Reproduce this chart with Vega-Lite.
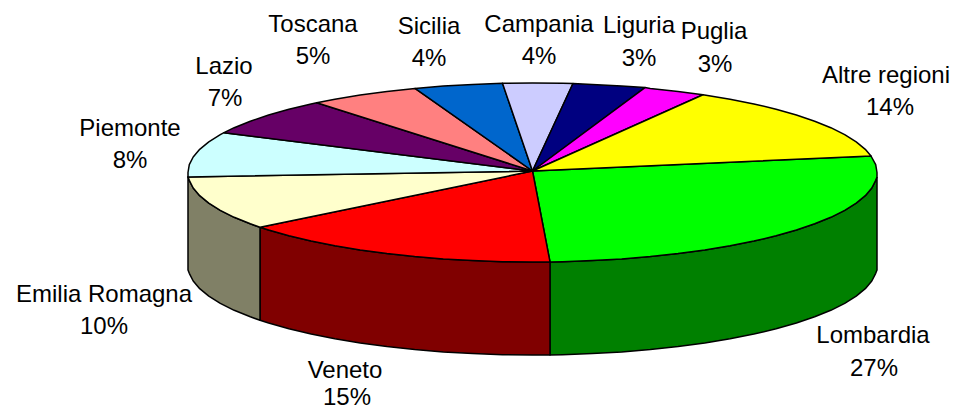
{"$schema":"https://vega.github.io/schema/vega-lite/v6.json","width":955,"height":410,"padding":0,"autosize":{"type":"none"},"background":"white","view":{"stroke":null},
"datasets":{
"side":[
{"region":"Lombardia side","n":0,"x":877,"y":177},{"region":"Lombardia side","n":1,"x":875.7,"y":180.3},{"region":"Lombardia side","n":2,"x":871.8,"y":188},{"region":"Lombardia side","n":3,"x":865.3,"y":195.7},{"region":"Lombardia side","n":4,"x":856.2,"y":203.1},{"region":"Lombardia side","n":5,"x":844.7,"y":210.3},{"region":"Lombardia side","n":6,"x":830.8,"y":217.3},{"region":"Lombardia side","n":7,"x":814.7,"y":223.8},{"region":"Lombardia side","n":8,"x":796.4,"y":230},{"region":"Lombardia side","n":9,"x":776.1,"y":235.8},{"region":"Lombardia side","n":10,"x":753.9,"y":241.1},{"region":"Lombardia side","n":11,"x":730.1,"y":245.8},{"region":"Lombardia side","n":12,"x":704.8,"y":250},{"region":"Lombardia side","n":13,"x":678.1,"y":253.6},{"region":"Lombardia side","n":14,"x":650.3,"y":256.6},{"region":"Lombardia side","n":15,"x":621.7,"y":259},{"region":"Lombardia side","n":16,"x":592.3,"y":260.6},{"region":"Lombardia side","n":17,"x":562.5,"y":261.7},{"region":"Lombardia side","n":18,"x":550,"y":261.9},{"region":"Lombardia side","n":19,"x":550,"y":354.9},{"region":"Lombardia side","n":20,"x":562.5,"y":354.7},{"region":"Lombardia side","n":21,"x":592.3,"y":353.6},{"region":"Lombardia side","n":22,"x":621.7,"y":352},{"region":"Lombardia side","n":23,"x":650.3,"y":349.6},{"region":"Lombardia side","n":24,"x":678.1,"y":346.6},{"region":"Lombardia side","n":25,"x":704.8,"y":343},{"region":"Lombardia side","n":26,"x":730.1,"y":338.8},{"region":"Lombardia side","n":27,"x":753.9,"y":334.1},{"region":"Lombardia side","n":28,"x":776.1,"y":328.8},{"region":"Lombardia side","n":29,"x":796.4,"y":323},{"region":"Lombardia side","n":30,"x":814.7,"y":316.8},{"region":"Lombardia side","n":31,"x":830.8,"y":310.3},{"region":"Lombardia side","n":32,"x":844.7,"y":303.3},{"region":"Lombardia side","n":33,"x":856.2,"y":296.1},{"region":"Lombardia side","n":34,"x":865.3,"y":288.7},{"region":"Lombardia side","n":35,"x":871.8,"y":281},{"region":"Lombardia side","n":36,"x":875.7,"y":273.3},{"region":"Lombardia side","n":37,"x":877,"y":270},{"region":"Lombardia side","n":38,"x":877,"y":177},
{"region":"Veneto side","n":0,"x":550,"y":261.9},{"region":"Veneto side","n":1,"x":532.5,"y":262},{"region":"Veneto side","n":2,"x":502.5,"y":261.7},{"region":"Veneto side","n":3,"x":472.7,"y":260.6},{"region":"Veneto side","n":4,"x":443.3,"y":259},{"region":"Veneto side","n":5,"x":414.7,"y":256.6},{"region":"Veneto side","n":6,"x":386.9,"y":253.6},{"region":"Veneto side","n":7,"x":360.2,"y":250},{"region":"Veneto side","n":8,"x":334.9,"y":245.8},{"region":"Veneto side","n":9,"x":311.1,"y":241.1},{"region":"Veneto side","n":10,"x":288.9,"y":235.8},{"region":"Veneto side","n":11,"x":268.6,"y":230},{"region":"Veneto side","n":12,"x":260,"y":227.3},{"region":"Veneto side","n":13,"x":260,"y":320.3},{"region":"Veneto side","n":14,"x":268.6,"y":323},{"region":"Veneto side","n":15,"x":288.9,"y":328.8},{"region":"Veneto side","n":16,"x":311.1,"y":334.1},{"region":"Veneto side","n":17,"x":334.9,"y":338.8},{"region":"Veneto side","n":18,"x":360.2,"y":343},{"region":"Veneto side","n":19,"x":386.9,"y":346.6},{"region":"Veneto side","n":20,"x":414.7,"y":349.6},{"region":"Veneto side","n":21,"x":443.3,"y":352},{"region":"Veneto side","n":22,"x":472.7,"y":353.6},{"region":"Veneto side","n":23,"x":502.5,"y":354.7},{"region":"Veneto side","n":24,"x":532.5,"y":355},{"region":"Veneto side","n":25,"x":550,"y":354.9},{"region":"Veneto side","n":26,"x":550,"y":261.9},
{"region":"Emilia side","n":0,"x":260,"y":227.3},{"region":"Emilia side","n":1,"x":250.3,"y":223.8},{"region":"Emilia side","n":2,"x":234.2,"y":217.3},{"region":"Emilia side","n":3,"x":220.3,"y":210.3},{"region":"Emilia side","n":4,"x":208.8,"y":203.1},{"region":"Emilia side","n":5,"x":199.7,"y":195.7},{"region":"Emilia side","n":6,"x":193.2,"y":188},{"region":"Emilia side","n":7,"x":189.3,"y":180.3},{"region":"Emilia side","n":8,"x":188,"y":177},{"region":"Emilia side","n":9,"x":188,"y":270},{"region":"Emilia side","n":10,"x":189.3,"y":273.3},{"region":"Emilia side","n":11,"x":193.2,"y":281},{"region":"Emilia side","n":12,"x":199.7,"y":288.7},{"region":"Emilia side","n":13,"x":208.8,"y":296.1},{"region":"Emilia side","n":14,"x":220.3,"y":303.3},{"region":"Emilia side","n":15,"x":234.2,"y":310.3},{"region":"Emilia side","n":16,"x":250.3,"y":316.8},{"region":"Emilia side","n":17,"x":260,"y":320.3},{"region":"Emilia side","n":18,"x":260,"y":227.3}
],
"top":[
{"region":"Lombardia","n":0,"x":532.5,"y":171},{"region":"Lombardia","n":1,"x":871,"y":156},{"region":"Lombardia","n":2,"x":875.7,"y":164.7},{"region":"Lombardia","n":3,"x":877,"y":172.5},{"region":"Lombardia","n":4,"x":877,"y":177},{"region":"Lombardia","n":5,"x":875.7,"y":180.3},{"region":"Lombardia","n":6,"x":871.8,"y":188},{"region":"Lombardia","n":7,"x":865.3,"y":195.7},{"region":"Lombardia","n":8,"x":856.2,"y":203.1},{"region":"Lombardia","n":9,"x":844.7,"y":210.3},{"region":"Lombardia","n":10,"x":830.8,"y":217.3},{"region":"Lombardia","n":11,"x":814.7,"y":223.8},{"region":"Lombardia","n":12,"x":796.4,"y":230},{"region":"Lombardia","n":13,"x":776.1,"y":235.8},{"region":"Lombardia","n":14,"x":753.9,"y":241.1},{"region":"Lombardia","n":15,"x":730.1,"y":245.8},{"region":"Lombardia","n":16,"x":704.8,"y":250},{"region":"Lombardia","n":17,"x":678.1,"y":253.6},{"region":"Lombardia","n":18,"x":650.3,"y":256.6},{"region":"Lombardia","n":19,"x":621.7,"y":259},{"region":"Lombardia","n":20,"x":592.3,"y":260.6},{"region":"Lombardia","n":21,"x":562.5,"y":261.7},{"region":"Lombardia","n":22,"x":550,"y":261.9},{"region":"Lombardia","n":23,"x":532.5,"y":171},
{"region":"Veneto","n":0,"x":532.5,"y":171},{"region":"Veneto","n":1,"x":550,"y":261.9},{"region":"Veneto","n":2,"x":532.5,"y":262},{"region":"Veneto","n":3,"x":502.5,"y":261.7},{"region":"Veneto","n":4,"x":472.7,"y":260.6},{"region":"Veneto","n":5,"x":443.3,"y":259},{"region":"Veneto","n":6,"x":414.7,"y":256.6},{"region":"Veneto","n":7,"x":386.9,"y":253.6},{"region":"Veneto","n":8,"x":360.2,"y":250},{"region":"Veneto","n":9,"x":334.9,"y":245.8},{"region":"Veneto","n":10,"x":311.1,"y":241.1},{"region":"Veneto","n":11,"x":288.9,"y":235.8},{"region":"Veneto","n":12,"x":268.6,"y":230},{"region":"Veneto","n":13,"x":260,"y":227.3},{"region":"Veneto","n":14,"x":532.5,"y":171},
{"region":"Emilia Romagna","n":0,"x":532.5,"y":171},{"region":"Emilia Romagna","n":1,"x":260,"y":227.3},{"region":"Emilia Romagna","n":2,"x":250.3,"y":223.8},{"region":"Emilia Romagna","n":3,"x":234.2,"y":217.3},{"region":"Emilia Romagna","n":4,"x":220.3,"y":210.3},{"region":"Emilia Romagna","n":5,"x":208.8,"y":203.1},{"region":"Emilia Romagna","n":6,"x":199.7,"y":195.7},{"region":"Emilia Romagna","n":7,"x":193.2,"y":188},{"region":"Emilia Romagna","n":8,"x":189.3,"y":180.3},{"region":"Emilia Romagna","n":9,"x":188,"y":177},{"region":"Emilia Romagna","n":10,"x":532.5,"y":171},
{"region":"Piemonte","n":0,"x":532.5,"y":171},{"region":"Piemonte","n":1,"x":188,"y":177},{"region":"Piemonte","n":2,"x":188,"y":172.5},{"region":"Piemonte","n":3,"x":189.3,"y":164.7},{"region":"Piemonte","n":4,"x":193.2,"y":157},{"region":"Piemonte","n":5,"x":199.7,"y":149.3},{"region":"Piemonte","n":6,"x":208.8,"y":141.9},{"region":"Piemonte","n":7,"x":220.3,"y":134.7},{"region":"Piemonte","n":8,"x":224,"y":132.7},{"region":"Piemonte","n":9,"x":532.5,"y":171},
{"region":"Lazio","n":0,"x":532.5,"y":171},{"region":"Lazio","n":1,"x":224,"y":132.7},{"region":"Lazio","n":2,"x":234.2,"y":127.7},{"region":"Lazio","n":3,"x":250.3,"y":121.2},{"region":"Lazio","n":4,"x":268.6,"y":115},{"region":"Lazio","n":5,"x":288.9,"y":109.2},{"region":"Lazio","n":6,"x":311.1,"y":103.9},{"region":"Lazio","n":7,"x":316.7,"y":102.7},{"region":"Lazio","n":8,"x":532.5,"y":171},
{"region":"Toscana","n":0,"x":532.5,"y":171},{"region":"Toscana","n":1,"x":316.7,"y":102.7},{"region":"Toscana","n":2,"x":334.9,"y":99.2},{"region":"Toscana","n":3,"x":360.2,"y":95},{"region":"Toscana","n":4,"x":386.9,"y":91.4},{"region":"Toscana","n":5,"x":415,"y":88.4},{"region":"Toscana","n":6,"x":532.5,"y":171},
{"region":"Sicilia","n":0,"x":532.5,"y":171},{"region":"Sicilia","n":1,"x":415,"y":88.4},{"region":"Sicilia","n":2,"x":443.3,"y":86},{"region":"Sicilia","n":3,"x":472.7,"y":84.4},{"region":"Sicilia","n":4,"x":502.5,"y":83.3},{"region":"Sicilia","n":5,"x":532.5,"y":171},
{"region":"Campania","n":0,"x":532.5,"y":171},{"region":"Campania","n":1,"x":502.5,"y":83.3},{"region":"Campania","n":2,"x":532.5,"y":83},{"region":"Campania","n":3,"x":562.5,"y":83.3},{"region":"Campania","n":4,"x":573,"y":83.5},{"region":"Campania","n":5,"x":532.5,"y":171},
{"region":"Liguria","n":0,"x":532.5,"y":171},{"region":"Liguria","n":1,"x":573,"y":83.5},{"region":"Liguria","n":2,"x":592.3,"y":84.4},{"region":"Liguria","n":3,"x":621.7,"y":86},{"region":"Liguria","n":4,"x":645,"y":87.6},{"region":"Liguria","n":5,"x":532.5,"y":171},
{"region":"Puglia","n":0,"x":532.5,"y":171},{"region":"Puglia","n":1,"x":645,"y":87.6},{"region":"Puglia","n":2,"x":650.3,"y":88.4},{"region":"Puglia","n":3,"x":678.1,"y":91.4},{"region":"Puglia","n":4,"x":703,"y":94.8},{"region":"Puglia","n":5,"x":532.5,"y":171},
{"region":"Altre regioni","n":0,"x":532.5,"y":171},{"region":"Altre regioni","n":1,"x":703,"y":94.8},{"region":"Altre regioni","n":2,"x":730.1,"y":99.2},{"region":"Altre regioni","n":3,"x":753.9,"y":103.9},{"region":"Altre regioni","n":4,"x":776.1,"y":109.2},{"region":"Altre regioni","n":5,"x":796.4,"y":115},{"region":"Altre regioni","n":6,"x":814.7,"y":121.2},{"region":"Altre regioni","n":7,"x":830.8,"y":127.7},{"region":"Altre regioni","n":8,"x":844.7,"y":134.7},{"region":"Altre regioni","n":9,"x":856.2,"y":141.9},{"region":"Altre regioni","n":10,"x":865.3,"y":149.3},{"region":"Altre regioni","n":11,"x":871,"y":156},{"region":"Altre regioni","n":12,"x":532.5,"y":171}
],
"labels":[
{"label":"Altre regioni","x":886,"y":83},{"label":"14%","x":890,"y":115},
{"label":"Lombardia","x":873,"y":343},{"label":"27%","x":874,"y":376},
{"label":"Veneto","x":345,"y":378},{"label":"15%","x":347,"y":405},
{"label":"Emilia Romagna","x":104,"y":302},{"label":"10%","x":104,"y":334},
{"label":"Piemonte","x":130,"y":136},{"label":"8%","x":130,"y":168},
{"label":"Lazio","x":224,"y":74},{"label":"7%","x":225,"y":106},
{"label":"Toscana","x":313,"y":32},{"label":"5%","x":313,"y":64},
{"label":"Sicilia","x":429,"y":34},{"label":"4%","x":429,"y":66},
{"label":"Campania","x":539,"y":32},{"label":"4%","x":539,"y":64},
{"label":"Liguria","x":639,"y":33},{"label":"3%","x":639,"y":66},
{"label":"Puglia","x":714,"y":39},{"label":"3%","x":715,"y":72}
]},
"encoding":{
"x":{"field":"x","type":"quantitative","scale":{"domain":[0,955],"nice":false,"zero":false},"axis":null},
"y":{"field":"y","type":"quantitative","scale":{"domain":[410,0],"nice":false,"zero":false},"axis":null}},
"layer":[
{"data":{"name":"side"},"mark":{"type":"line","stroke":"#000000","strokeWidth":1.5,"strokeJoin":"round","clip":false},
"encoding":{"order":{"field":"n","type":"quantitative"},"fill":{"field":"region","type":"nominal","legend":null,"scale":{"domain":["Lombardia side","Veneto side","Emilia side"],"range":["#008000","#800000","#808066"]}}}},
{"data":{"name":"top"},"mark":{"type":"line","stroke":"#000000","strokeWidth":1.5,"strokeJoin":"round","clip":false},
"encoding":{"order":{"field":"n","type":"quantitative"},"fill":{"field":"region","type":"nominal","legend":null,"scale":{"domain":["Lombardia","Veneto","Emilia Romagna","Piemonte","Lazio","Toscana","Sicilia","Campania","Liguria","Puglia","Altre regioni"],"range":["#00FF00","#FF0000","#FFFFCC","#CCFFFF","#660066","#FF8080","#0066CC","#CCCCFF","#000080","#FF00FF","#FFFF00"]}}}},
{"data":{"name":"labels"},"mark":{"type":"text","font":"Liberation Sans","fontSize":24,"color":"#000000","align":"center","baseline":"alphabetic"},
"encoding":{"text":{"field":"label","type":"nominal"}}}
],
"resolve":{"scale":{"fill":"independent"}}}
